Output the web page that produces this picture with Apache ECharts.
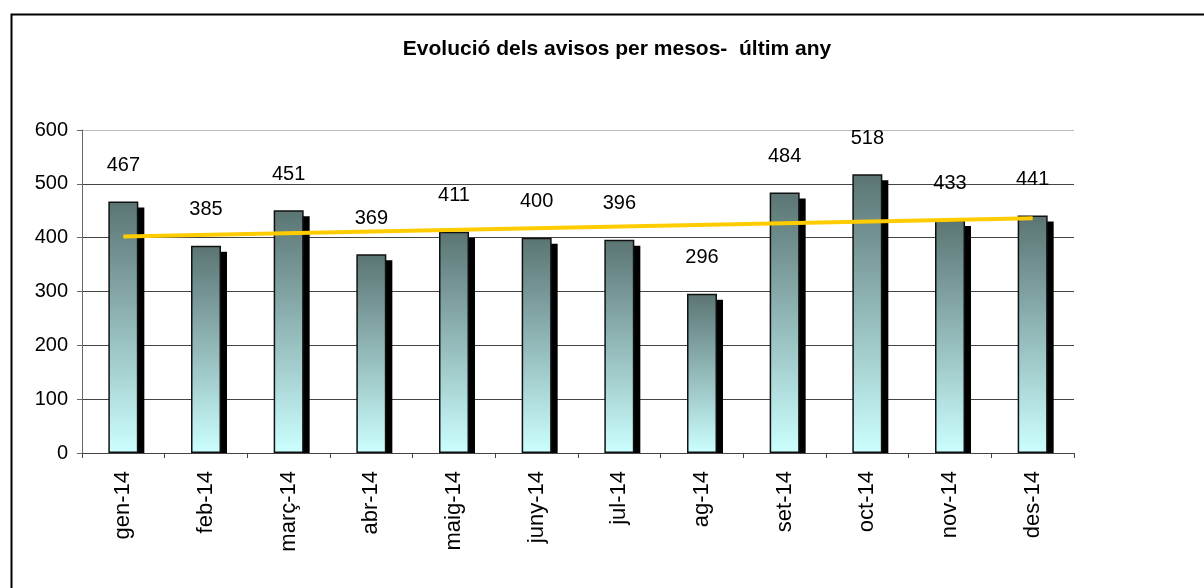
<!DOCTYPE html>
<html>
<head>
<meta charset="utf-8">
<script src="https://cdn.jsdelivr.net/npm/echarts@6/dist/echarts.min.js"></script>
<style>
  html, body { margin: 0; padding: 0; background: #fff; }
  #chart { width: 1204px; height: 588px; }
</style>
</head>
<body>
<div id="chart"></div>
<script>
var months = ['gen-14', 'feb-14', 'març-14', 'abr-14', 'maig-14', 'juny-14', 'jul-14', 'ag-14', 'set-14', 'oct-14', 'nov-14', 'des-14'];
var avisos = [467, 385, 451, 369, 411, 400, 396, 296, 484, 518, 433, 441];
// linia de tendencia, llegida del grafic (inici i final)
var trendEnds = [402, 436];
var yTicks = [0, 100, 200, 300, 400, 500, 600];

var myChart = echarts.init(document.getElementById('chart'));
var font = '"Liberation Sans", Arial, sans-serif';
var barW = 30;
var shadowOff = 6;

var option = {
  animation: false,
  backgroundColor: '#fff',
  title: {
    text: 'Evolució dels avisos per mesos-  últim any',
    left: 612,
    top: 34,
    textAlign: 'center',
    textStyle: { fontFamily: font, fontSize: 21, fontWeight: 'bold', color: '#000' }
  },
  grid: { left: 82, right: 130, top: 130, bottom: 135 },
  graphic: [
    {
      type: 'rect',
      z: -1,
      shape: { x: 11.5, y: 14.5, width: 1300, height: 700 },
      style: { fill: 'none', stroke: '#000', lineWidth: 2 }
    }
  ],
  xAxis: {
    type: 'category',
    data: months,
    axisLine: { lineStyle: { color: '#444', width: 1 } },
    axisTick: { show: true, length: 5, lineStyle: { color: '#444' } },
    axisLabel: { rotate: 90, margin: 18, fontFamily: font, fontSize: 22, color: '#000' }
  },
  yAxis: {
    type: 'value',
    min: yTicks[0],
    max: yTicks[yTicks.length - 1],
    interval: 100,
    axisLine: { show: true, lineStyle: { color: '#666', width: 1 } },
    axisTick: { show: true, length: 5, lineStyle: { color: '#666' } },
    axisLabel: { margin: 14, fontFamily: font, fontSize: 20, color: '#000' },
    splitLine: { lineStyle: { color: ['#444', '#444', '#444', '#444', '#444', '#444', '#bbb'], width: 1 } }
  },
  series: [
    {
      // ombra negra de les barres
      name: 'ombra',
      type: 'custom',
      z: 1,
      silent: true,
      data: avisos.map(function (v, i) { return [i, v]; }),
      renderItem: function (params, api) {
        var top = api.coord([api.value(0), api.value(1)]);
        var base = api.coord([api.value(0), 0]);
        return {
          type: 'rect',
          shape: {
            x: top[0] - barW / 2 + shadowOff,
            y: top[1] + shadowOff,
            width: barW,
            height: base[1] - top[1] - shadowOff
          },
          style: { fill: '#000' }
        };
      }
    },
    {
      name: 'avisos',
      type: 'bar',
      data: avisos,
      barWidth: barW,
      z: 2,
      itemStyle: {
        color: new echarts.graphic.LinearGradient(0, 0, 0, 1, [
          { offset: 0, color: '#5a7473' },
          { offset: 1, color: '#ccffff' }
        ]),
        borderColor: '#111',
        borderWidth: 1.5
      },
      label: {
        show: true,
        position: 'top',
        distance: 26,
        fontFamily: font,
        fontSize: 20,
        color: '#000'
      },
      markLine: {
        silent: true,
        symbol: 'none',
        z: 5,
        label: { show: false },
        lineStyle: { color: '#ffcc00', width: 4, type: 'solid' },
        data: [[
          { coord: [months[0], trendEnds[0]] },
          { coord: [months[months.length - 1], trendEnds[1]] }
        ]]
      }
    }
  ]
};
myChart.setOption(option);
</script>
</body>
</html>
